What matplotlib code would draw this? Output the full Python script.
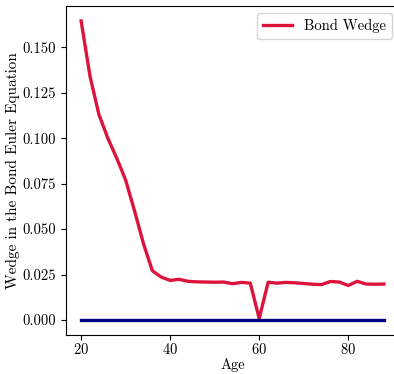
import numpy as np
import matplotlib
matplotlib.use("Agg")
import matplotlib.pyplot as plt

plt.rcParams['font.family'] = ['cmr10', 'DejaVu Serif']
plt.rcParams['mathtext.fontset'] = 'cm'
plt.rcParams['axes.formatter.use_mathtext'] = True
plt.rcParams['font.size'] = 10.5

# ages 20..88, every two years
age = [20, 22, 24, 26, 28, 30, 32, 34, 36, 38, 40, 42, 44, 46, 48, 50, 52, 54,
       56, 58, 60, 62, 64, 66, 68, 70, 72, 74, 76, 78, 80, 82, 84, 86, 88]
bond_wedge = [0.1645, 0.134, 0.113, 0.100, 0.089, 0.077, 0.060, 0.042, 0.0271,
              0.0236, 0.0218, 0.0224, 0.0213, 0.0210, 0.0209, 0.0208, 0.0209,
              0.0200, 0.0207, 0.0203, 0.0008, 0.0208, 0.0203, 0.0207, 0.0205,
              0.0201, 0.0197, 0.0195, 0.0212, 0.0209, 0.0190, 0.0213, 0.0198,
              0.0197, 0.0198]
zero_line = [0.0] * len(age)

fig = plt.figure(figsize=(3.94, 3.74), dpi=100)
ax = fig.add_axes([66/394, 39/374, 333/394, 329/374])

ax.plot(age, bond_wedge, color='crimson', lw=2.4, label='Bond Wedge')
ax.plot(age, zero_line, color='navy', lw=2.4)

ax.spines['right'].set_visible(False)
ax.set_xlabel('Age', labelpad=1)
ax.set_ylabel('Wedge in the Bond Euler Equation', labelpad=2, fontsize=11)
ax.set_xticks([20, 40, 60, 80])
ax.set_yticks([0.0, 0.025, 0.05, 0.075, 0.1, 0.125, 0.15])
ax.set_yticklabels(['0.000', '0.025', '0.050', '0.075', '0.100', '0.125', '0.150'])
ax.tick_params(axis='x', pad=1.5)
ax.legend(loc='upper right')

fig.savefig('out.png', dpi=100)
